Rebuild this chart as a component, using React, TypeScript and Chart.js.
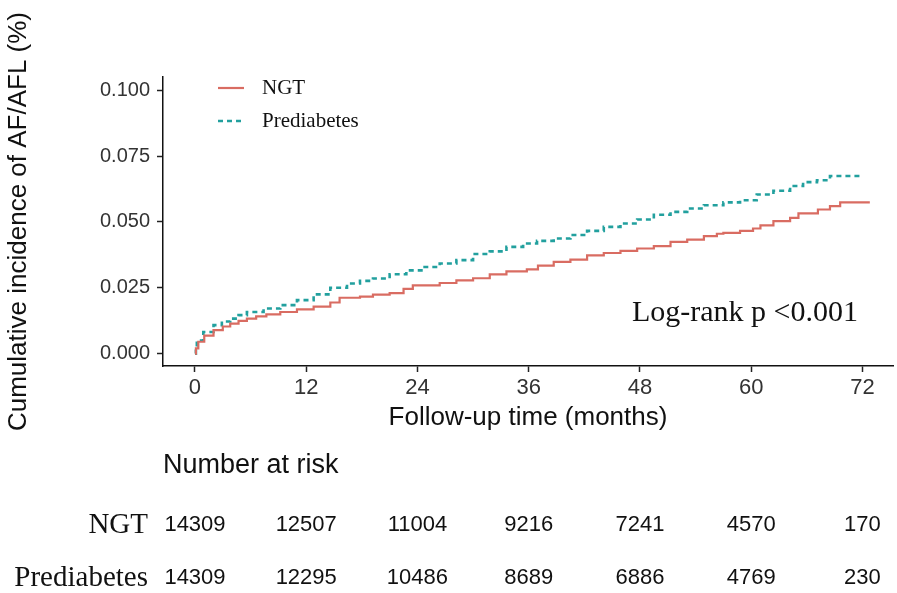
import React, { useEffect, useRef } from "react";
import { Chart, registerables } from "chart.js";

Chart.register(...registerables);

// ---- data ----
const xTicks = [0, 12, 24, 36, 48, 60, 72];
const yTicks = [0, 0.025, 0.05, 0.075, 0.1];

const seriesNames = ["NGT", "Prediabetes"];

const ngtTime = [0, 0.1, 0.36, 1.0, 2.0, 3.0, 3.8, 4.7, 5.6, 6.6, 7.7, 9.2, 11.0, 12.8, 14.6, 15.6, 17.8, 19.2, 21.0, 22.5, 23.5, 26.4, 28.2, 30.0, 31.8, 33.6, 35.8, 37.0, 38.7, 40.5, 42.3, 44.1, 45.9, 47.7, 49.5, 51.3, 53.1, 54.9, 56.3, 57.0, 58.8, 60.2, 61.0, 62.4, 64.2, 65.1, 67.2, 68.5, 69.6, 72.8];
const ngtValue = [0, 0.002, 0.0045, 0.0068, 0.0089, 0.0103, 0.0114, 0.0124, 0.0133, 0.0141, 0.0149, 0.0158, 0.0168, 0.0178, 0.0194, 0.0212, 0.0216, 0.0224, 0.023, 0.0246, 0.0259, 0.0268, 0.0278, 0.0286, 0.0301, 0.0312, 0.032, 0.0334, 0.0348, 0.0357, 0.0373, 0.0382, 0.039, 0.0399, 0.0408, 0.0424, 0.0433, 0.0446, 0.0455, 0.0458, 0.0466, 0.0475, 0.0487, 0.0503, 0.0515, 0.0532, 0.0547, 0.056, 0.0574, 0.0574];

const preTime = [0, 0.1, 0.2, 0.9, 2.0, 2.9, 3.8, 4.7, 5.6, 7.4, 9.2, 11.0, 12.8, 14.6, 16.4, 17.8, 19.2, 21.0, 22.8, 24.6, 26.4, 28.2, 30.0, 31.8, 33.6, 35.4, 36.9, 38.7, 40.5, 42.3, 44.1, 45.9, 47.7, 49.5, 51.3, 53.1, 54.9, 57.0, 58.8, 60.6, 62.4, 64.2, 65.6, 67.1, 68.5, 72.0];
const preValue = [0, 0.0025, 0.005, 0.0082, 0.0108, 0.0122, 0.0133, 0.0146, 0.0158, 0.0171, 0.0184, 0.0203, 0.0225, 0.025, 0.0266, 0.0276, 0.0285, 0.0301, 0.0316, 0.0329, 0.0342, 0.0355, 0.0378, 0.0388, 0.0405, 0.0418, 0.0428, 0.0437, 0.045, 0.0466, 0.0481, 0.0494, 0.0509, 0.0527, 0.0538, 0.0551, 0.0563, 0.0574, 0.0582, 0.0604, 0.0618, 0.0636, 0.0651, 0.0658, 0.0674, 0.0674];

const riskTimes = [0, 12, 24, 36, 48, 60, 72];
const ngtRisk = [14309, 12507, 11004, 9216, 7241, 4570, 170];
const preRisk = [14309, 12295, 10486, 8689, 6886, 4769, 230];

const pValueText = "Log-rank p <0.001";
const riskTitle = "Number at risk";
const xTitle = "Follow-up time (months)";
const yTitle = "Cumulative incidence of AF/AFL (%)";

const SANS = '"Liberation Sans", Arial, sans-serif';
const SERIF = '"Liberation Serif", "Times New Roman", serif';

const overlayPlugin = {
  id: "overlay",
  afterDraw(chart: any) {
    const ctx = chart.ctx;
    const xs = chart.scales.x;
    const area = chart.chartArea;
    ctx.save();
    // legend
    chart.data.datasets.forEach((ds: any, i: number) => {
      const y = 88 + i * 33;
      ctx.strokeStyle = ds.borderColor;
      ctx.lineWidth = ds.borderWidth;
      ctx.setLineDash(ds.borderDash || []);
      ctx.beginPath();
      ctx.moveTo(218, y);
      ctx.lineTo(244, y);
      ctx.stroke();
      ctx.setLineDash([]);
      ctx.fillStyle = "#111";
      ctx.font = `21px ${SERIF}`;
      ctx.textBaseline = "middle";
      ctx.textAlign = "left";
      ctx.fillText(ds.label, 262, y);
    });
    // p value
    ctx.fillStyle = "#111";
    ctx.font = `30px ${SERIF}`;
    ctx.textAlign = "left";
    ctx.textBaseline = "middle";
    ctx.fillText(pValueText, 632, 313);
    // risk table
    ctx.font = `27px ${SANS}`;
    ctx.fillText(riskTitle, area.left, 466);
    const rows = [ngtRisk, preRisk];
    const rowY = [525, 578];
    rows.forEach((row, r) => {
      ctx.font = `29px ${SERIF}`;
      ctx.textAlign = "right";
      ctx.fillStyle = "#111";
      ctx.fillText(seriesNames[r], 148, rowY[r]);
      ctx.font = `22px ${SANS}`;
      ctx.textAlign = "center";
      row.forEach((n, j) => {
        ctx.fillText(String(n), xs.getPixelForValue(riskTimes[j]), rowY[r]);
      });
    });
    ctx.restore();
  },
};

export default function App() {
  const ref = useRef<HTMLCanvasElement | null>(null);
  useEffect(() => {
    if (!ref.current) return;
    const chart = new Chart(ref.current, {
      type: "line",
      data: {
        datasets: [
          {
            label: seriesNames[0],
            data: ngtTime.map((t, i) => ({ x: t, y: ngtValue[i] })),
            borderColor: "#D96C62",
            borderWidth: 2.2,
            stepped: true,
            pointRadius: 0,
            fill: false,
          },
          {
            label: seriesNames[1],
            data: preTime.map((t, i) => ({ x: t, y: preValue[i] })),
            borderColor: "#22A09E",
            borderWidth: 2.6,
            borderDash: [5, 4],
            stepped: true,
            pointRadius: 0,
            fill: false,
          },
        ],
      },
      options: {
        animation: false,
        responsive: false,
        maintainAspectRatio: false,
        layout: { padding: { left: 0, top: 77, right: 4, bottom: 157 } },
        plugins: { legend: { display: false }, tooltip: { enabled: false } },
        scales: {
          x: {
            type: "linear",
            min: -3.45,
            max: 75.3,
            afterBuildTicks: (s: any) => {
              s.ticks = xTicks.map((v) => ({ value: v }));
            },
            afterFit: (s: any) => {
              s.height = 70;
            },
            ticks: {
              color: "#333",
              font: { family: SANS, size: 22 },
              padding: 3,
              maxRotation: 0,
              autoSkip: false,
            },
            grid: {
              drawOnChartArea: false,
              tickLength: 6,
              tickColor: "#222",
              tickWidth: 1.5,
            },
            border: { display: true, color: "#111", width: 1.5 },
            title: {
              display: true,
              text: xTitle,
              color: "#111",
              font: { family: SANS, size: 26 },
              padding: { top: 0, bottom: 3 },
            },
          },
          y: {
            type: "linear",
            min: -0.0047,
            max: 0.105,
            afterBuildTicks: (s: any) => {
              s.ticks = yTicks.map((v) => ({ value: v }));
            },
            afterFit: (s: any) => {
              s.width = 163;
            },
            ticks: {
              color: "#333",
              font: { family: SANS, size: 20 },
              padding: 7,
              callback: (v: any) => Number(v).toFixed(3),
            },
            grid: {
              drawOnChartArea: false,
              tickLength: 6,
              tickColor: "#222",
              tickWidth: 1.5,
            },
            border: { display: true, color: "#111", width: 1.5 },
            title: {
              display: true,
              text: yTitle,
              color: "#111",
              font: { family: SANS, size: 26 },
              padding: { top: 3, bottom: 0 },
            },
          },
        },
      },
      plugins: [overlayPlugin],
    });
    return () => chart.destroy();
  }, []);
  return (
    <div style={{ position: "absolute", left: 0, top: 0, width: 897, height: 593, background: "#fff" }}>
      <canvas ref={ref} width={897} height={593} style={{ width: 897, height: 593, display: "block" }} />
    </div>
  );
}
